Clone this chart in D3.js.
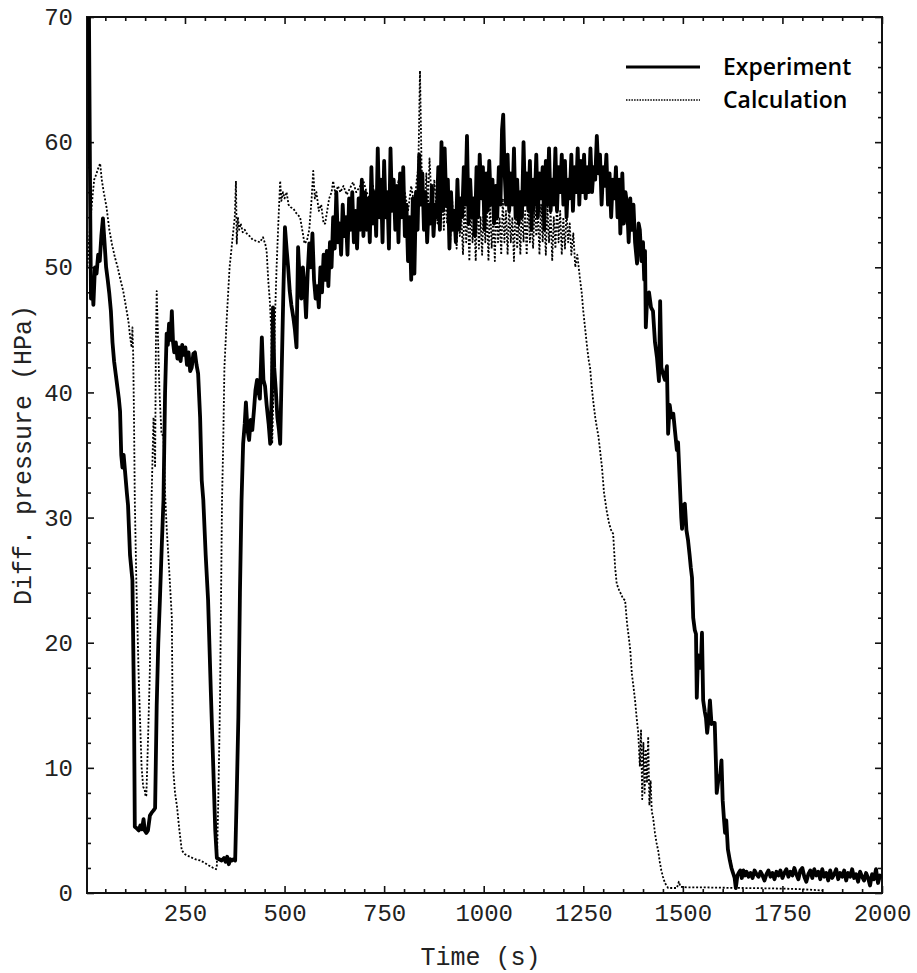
<!DOCTYPE html>
<html>
<head>
<meta charset="utf-8">
<script src="https://cdn.jsdelivr.net/npm/d3@7"></script>
<style>
  html, body { margin: 0; padding: 0; background: #fff; }
  svg { display: block; }
</style>
</head>
<body>
<svg id="chart" width="917" height="973"></svg>
<script>
// ---------- data ----------
const xTicks = [250, 500, 750, 1000, 1250, 1500, 1750, 2000];
const yTicks = [0, 10, 20, 30, 40, 50, 60, 70];
const seriesNames = ["Experiment", "Calculation"];

const experiment = [
  [5,72],[9,70],[12,55],[14,47.5],[17,49],[20,47],[24,50],[28,49.5],[32,51],[36,50.5],[40,52.5],[44,53.9],
  [48,52],[52,50],[56,49],[60,47.9],[64,46.5],[68,44],[72,42.5],[76,41.5],[80,40.5],[84,39.5],[87,38.5],
  [90,35],[93,34],[96,35],[100,33.5],[104,32],[107,31],[112,27],[118,25],[122,15],[124,5.3],[128,5.2],
  [134,5.0],[138,5.4],[142,5.1],[146,5.9],[149,5.0],[153,4.8],[157,5.0],[162,6.2],[166,6.4],[171,6.6],
  [175,6.8],[179,15],[183,20],[187,23.4],[192,28],[196,31.4],[200,40],[204,44.7],[207,43.8],[210,45.5],
  [214,44.2],[217,46.5],[220,44],[223,43.2],[227,44],[231,42.7],[235,43.6],[239,42.5],[243,43.8],[247,43],
  [251,43.6],[255,42.2],[259,43.2],[263,41.7],[267,42],[271,43.1],[275,43.2],[279,42.2],[283,41.5],
  [288,38],[292,33],[296,31.4],[302,27],[308,23.4],[315,16],[321,10.1],[326,5],[330,2.8],[336,2.7],
  [342,2.6],[348,2.8],[352,2.5],[356,2.9],[360,2.3],[364,2.7],[368,2.6],[372,2.7],[376,2.6],[380,8],
  [384,14],[388,24],[392,31.4],[396,35.9],[400,37.5],[403,39.2],[407,37],[411,36.2],[415,37.8],[419,37],
  [423,38.5],[427,40.2],[431,41],[435,40],[438,39.5],[443,44.4],[447,41],[451,40.5],[455,39],[460,37.5],
  [464,35.9],[468,40],[471,46.8],[474,42],[478,40.2],[482,38],[486,37],[489,35.9],[493,42],[497,48],
  [501,53.2],[505,51.5],[509,50],[513,48.1],[517,47],[522,46],[526,45],[530,43.6],[534,51.6],[538,49],
  [542,47.5],[546,50],[550,48.5],[554,46],[558,49.5],[562,51.9],[566,50],[570,52.7],[574,49],[578,47.5],
  [582,48.5],[586,46.8],[590,50],[594,48],[598,51],[602,49],[606,51.3],[610,48.5],[614,52],[618,50],
  [622,54],[626,51.5],[630,56],[634,52],[638,53.5],[642,51],[646,55],[650,52.5],[654,54],[658,51],
  [662,55.5],[666,53],[670,56],[674,52],[678,54.5],[682,51.5],[686,55.5],[690,53],[694,57],[698,52.5],
  [702,56],[706,53],[710,55.5],[714,52],[718,58],[722,53.5],[726,56],[730,52.5],[734,59.5],[738,54],
  [742,57],[746,52],[750,58.5],[754,54],[758,56],[762,51.5],[766,59.5],[770,54.5],[774,57],[778,53],
  [782,56.5],[786,52],[790,57.5],[794,54],[798,58],[802,52.5],[806,55],[810,50.5],[814,54],[818,49],
  [822,55.5],[826,49.5],[830,56],[834,53],[838,59],[842,55],[846,57.5],[850,53],[854,56],[858,52],
  [862,55],[866,53.5],[870,56.5],[874,52.5],[878,55],[882,54],[886,58],[890,53],[894,60],[898,54.5],
  [902,59.5],[906,55],[910,57],[914,51.5],[918,56],[922,53],[926,54.5],[930,52],[934,57],[938,53],
  [942,55.5],[946,54],[950,58],[954,55],[958,60.5],[962,53.5],[966,57],[970,54],[974,55.5],[978,52.5],
  [982,58],[986,54],[990,59],[994,55.5],[998,58],[1002,53],[1006,57.5],[1010,54.5],[1014,58.5],[1018,55],
  [1022,57],[1026,53.5],[1030,56.5],[1034,54],[1038,58],[1042,55],[1046,61],[1049,62.2],[1052,58],
  [1056,55],[1060,59],[1064,54.5],[1068,57.5],[1072,55],[1076,59.5],[1080,54],[1084,57],[1088,53.5],
  [1092,56],[1096,54],[1100,60],[1104,55],[1108,57.5],[1112,54.5],[1116,58.5],[1120,53],[1124,57],
  [1128,55],[1132,59],[1136,54],[1140,57.5],[1144,55.5],[1148,58],[1152,53],[1156,58.5],[1160,55],
  [1164,59.5],[1168,54.5],[1172,57],[1176,55],[1180,59.5],[1184,54.5],[1188,58],[1192,56],[1196,59],
  [1200,55],[1204,58.5],[1208,54],[1212,57],[1216,55.5],[1220,59],[1224,54.5],[1228,58],[1232,56],
  [1236,59.5],[1240,55],[1244,58.5],[1248,56],[1252,59],[1256,55.5],[1260,58],[1264,56],[1268,59.5],
  [1272,56],[1276,58],[1280,57],[1284,60.5],[1288,57.5],[1292,59],[1296,55],[1300,58],[1304,56.5],
  [1308,59],[1312,55],[1316,57.5],[1320,54],[1324,57],[1328,55.5],[1332,58],[1336,54],[1340,57],
  [1343,52.7],[1348,57.5],[1352,53.5],[1356,56],[1360,55],[1364,52],[1368,55.5],[1372,53],[1376,55],
  [1380,52],[1385,50.3],[1389,53.5],[1392,53],[1396,50.5],[1400,52],[1403,49],[1405,51.3],[1407,45.2],
  [1410,47.3],[1415,48],[1420,46.8],[1425,46.5],[1430,44],[1435,42.8],[1440,40.9],[1443,47.3],[1446,42],
  [1450,41.5],[1455,41],[1460,42.1],[1463,36.7],[1467,39],[1471,38],[1476,38.3],[1480,37],[1485,35.4],
  [1488,36],[1492,33],[1496,30],[1498,29.1],[1502,31],[1505,31.1],[1509,29],[1513,28.2],[1517,27],
  [1520,26],[1523,25.2],[1526,22],[1530,21],[1533,20.7],[1535,15.6],[1538,19],[1542,18],[1546,19],
  [1548,20.8],[1551,15.4],[1555,14.5],[1558,14],[1561,12.8],[1565,14],[1568,15.4],[1572,13.5],[1576,13.6],
  [1580,13.6],[1583,10.5],[1585,8],[1589,9],[1594,9.5],[1597,10.6],[1600,7.4],[1603,6],[1606,4.8],
  [1609,5.8],[1613,3.5],[1618,2.6],[1622,2],[1626,1.6],[1630,1.2],[1633,0.4],[1637,1.4],[1640,1.6],
  [1644,1.8],[1648,1.2],[1652,1.8],[1656,1.4],[1660,1.7],[1665,1.3],[1670,1.6],[1675,1.2],[1680,1.8],
  [1685,1.5],[1690,1.3],[1695,1.7],[1700,1.4],[1705,1.0],[1710,1.5],[1715,1.8],[1720,1.3],[1725,1.6],
  [1730,1.1],[1735,1.7],[1740,1.4],[1745,1.8],[1750,1.2],[1755,1.6],[1760,1.9],[1765,1.3],[1770,1.7],
  [1775,1.4],[1780,2.0],[1785,1.5],[1790,1.1],[1795,1.8],[1800,2.0],[1805,1.3],[1810,0.9],[1815,1.5],
  [1820,1.8],[1825,1.2],[1830,1.9],[1835,1.4],[1840,1.7],[1845,1.1],[1850,1.9],[1855,1.3],[1860,1.6],
  [1865,1.0],[1870,1.8],[1875,1.2],[1880,1.5],[1885,1.9],[1890,1.1],[1895,1.6],[1900,1.3],[1905,1.8],
  [1910,1.0],[1915,1.6],[1920,1.3],[1925,1.9],[1930,1.2],[1935,1.5],[1940,0.9],[1945,1.7],[1950,1.3],
  [1955,1.0],[1960,1.6],[1965,1.2],[1970,0.6],[1975,1.5],[1980,1.1],[1985,1.9],[1990,0.8],[1995,1.4],
  [2000,1.2]
];

const calculation = [
  [5,50],[10,52.5],[16,55],[22,57],[28,57.5],[33,58],[37,58.3],[41,57],[46,56],[53,54.8],[60,53],
  [67,51.8],[74,50.8],[81,50],[88,49],[95,48.1],[101,47],[108,45.7],[112,44.5],[116,43.6],[118,45.2],
  [120,43],[122,38],[124,31.4],[128,24.7],[134,17],[141,10.1],[145,8.5],[149,8.2],[151,7.7],[153,7.8],
  [157,12],[162,18],[166,31.4],[171,38],[175,34],[177,44],[179,48.1],[182,44.7],[186,40],[191,36.7],
  [196,36.5],[200,32],[204,29.2],[210,26],[217,22],[220,10.1],[225,8],[230,6.9],[236,5],[242,3.4],
  [250,3.1],[262,2.9],[275,2.7],[288,2.6],[300,2.4],[310,2.2],[321,2.0],[328,1.9],[330,2.2],[334,8],
  [338,15.4],[343,31.4],[346,35.9],[349,42],[355,46],[362,50],[370,52.5],[375,54],[378,56.9],[380,51.9],
  [383,54],[386,53],[390,53.5],[395,52.8],[400,53],[405,52.7],[412,52.5],[420,52.2],[430,52.1],[438,52],
  [446,52.4],[452,51.8],[455,51.3],[459,49],[463,47.3],[467,44.7],[469,35.9],[472,40],[476,46],[480,50],
  [485,54],[489,56.9],[492,55.3],[496,56],[500,55.5],[505,56],[510,55],[515,54.8],[522,54.7],[530,54.3],
  [539,54],[546,52.7],[550,51.9],[556,52.1],[562,53],[568,55.5],[572,57.7],[576,55.5],[580,56],[586,54.5],
  [592,55],[598,53.5],[602,53.5],[606,54.3],[612,55.5],[618,56],[622,56.9],[628,55.8],[634,56.5],[640,56],
  [648,56.5],[656,55.8],[664,56.3],[672,56.8],[680,56],[690,56.5],[698,56.9],[706,56],[714,55.5],[722,56.5],
  [730,55],[738,56],[746,54.5],[754,56],[762,55],[770,56.5],[778,54.5],[786,57],[794,55],[802,56],
  [810,54.5],[818,56.5],[826,55],[832,57],[836,58],[840,65.7],[844,58],[848,56],[852,54],[856,57.5],
  [860,55],[864,58.7],[868,56],[872,54.5],[876,57],[880,55],[884,53.5],[888,56],[892,54],[896,55.5],
  [900,53],[904,56.5],[908,53.5],[912,55],[916,52],[920,56],[924,53],[928,54.5],[932,51.5],[936,55],
  [940,52.5],[944,54],[948,51],[952,55.5],[956,52],[960,54.5],[964,50.5],[968,55],[972,52],[976,54],
  [980,50.5],[984,55.5],[988,51.5],[992,54],[996,51],[1000,55],[1004,52],[1008,54.5],[1012,50.5],
  [1016,55.5],[1020,51.5],[1024,54],[1028,50.5],[1032,55.5],[1036,52],[1040,54],[1044,51],[1048,55.5],
  [1052,52],[1056,54.5],[1060,51],[1064,55],[1068,52],[1072,54],[1076,50.5],[1080,55.5],[1084,51.5],
  [1088,54],[1092,51],[1096,55],[1100,52],[1104,54.5],[1108,51],[1112,55.5],[1116,52],[1120,54],
  [1124,51.5],[1128,55],[1132,52.5],[1136,54.5],[1140,51],[1144,55],[1148,52],[1152,54],[1156,51],
  [1160,55],[1164,52],[1168,54.5],[1172,50.5],[1176,54],[1180,51.5],[1184,55],[1188,52],[1192,54.5],
  [1196,51],[1200,54],[1204,51.5],[1208,54.5],[1212,52],[1216,53.5],[1220,51],[1225,52.7],[1230,50],
  [1235,51],[1242,49],[1246,48],[1250,46.5],[1255,45],[1260,43.5],[1264,42.5],[1267,42],[1271,40.5],
  [1275,39.3],[1280,38],[1284,37.2],[1288,36.5],[1292,35.4],[1297,34],[1302,32],[1309,30.5],[1315,29.5],
  [1320,29],[1325,28.7],[1330,26],[1334,24.7],[1340,24.2],[1346,23.8],[1350,23.5],[1355,23.4],[1360,21.5],
  [1364,20.5],[1368,19.4],[1372,17.5],[1376,16.5],[1380,15.4],[1384,14],[1388,12.8],[1392,10.1],[1395,13],
  [1398,7.5],[1401,12],[1404,8],[1407,11.5],[1410,8.8],[1413,12.5],[1416,7],[1419,9],[1422,6.5],[1425,6.1],
  [1430,4.8],[1434,4],[1438,3.4],[1442,2.5],[1446,1.8],[1450,1.3],[1455,0.8],[1463,0.4],[1475,0.4],
  [1485,0.4],[1490,0.9],[1494,0.5],[1510,0.45],[1550,0.45],[1600,0.42],[1650,0.4],[1700,0.38],[1750,0.35],
  [1800,0.3],[1852,0.2]
];

// ---------- layout ----------
const svg = d3.select("#chart");
const mLeft = 87, mRight = 882, mTop = 17, mBottom = 893;
const x = d3.scaleLinear().domain([4, 2000]).range([mLeft, mRight]);
const y = d3.scaleLinear().domain([0, 70]).range([mBottom, mTop]);

svg.append("defs").append("clipPath").attr("id", "clip")
  .append("rect").attr("x", mLeft).attr("y", mTop).attr("width", mRight - mLeft).attr("height", mBottom - mTop);

const monoFont = '"Liberation Mono", "DejaVu Sans Mono", monospace';

const xMinor = d3.range(50, 2001, 50).filter(v => v % 250 !== 0);
const yMinor = d3.range(2, 70, 2).filter(v => v % 10 !== 0);

function styleAxis(g) {
  g.select(".domain").remove();
  g.selectAll(".tick line").attr("stroke", "#111").attr("stroke-width", 1.6);
}

// bottom axis
const gB = svg.append("g").attr("transform", `translate(0,${mBottom})`)
  .call(d3.axisBottom(x).tickValues(xTicks).tickSize(-7).tickPadding(11).tickFormat(d3.format("d")));
styleAxis(gB);
gB.selectAll(".tick text").attr("font-size", 24).attr("fill", "#222").attr("font-family", monoFont);
svg.append("g").attr("transform", `translate(0,${mBottom})`)
  .call(d3.axisBottom(x).tickValues(xMinor).tickSize(-4).tickFormat("")).call(styleAxis);

// top axis
svg.append("g").attr("transform", `translate(0,${mTop})`)
  .call(d3.axisTop(x).tickValues(xTicks).tickSize(-7).tickFormat("")).call(styleAxis);
svg.append("g").attr("transform", `translate(0,${mTop})`)
  .call(d3.axisTop(x).tickValues(xMinor).tickSize(-4).tickFormat("")).call(styleAxis);

// left axis
const gL = svg.append("g").attr("transform", `translate(${mLeft},0)`)
  .call(d3.axisLeft(y).tickValues(yTicks).tickSize(-7).tickPadding(14));
styleAxis(gL);
gL.selectAll(".tick text").attr("font-size", 24).attr("fill", "#222").attr("font-family", monoFont);
svg.append("g").attr("transform", `translate(${mLeft},0)`)
  .call(d3.axisLeft(y).tickValues(yMinor).tickSize(-4).tickFormat("")).call(styleAxis);

// right axis
svg.append("g").attr("transform", `translate(${mRight},0)`)
  .call(d3.axisRight(y).tickValues(yTicks).tickSize(-7).tickFormat("")).call(styleAxis);
svg.append("g").attr("transform", `translate(${mRight},0)`)
  .call(d3.axisRight(y).tickValues(yMinor).tickSize(-4).tickFormat("")).call(styleAxis);

// frame
svg.append("rect").attr("x", mLeft).attr("y", mTop).attr("width", mRight - mLeft).attr("height", mBottom - mTop)
  .attr("fill", "none").attr("stroke", "#111").attr("stroke-width", 2);

// axis titles
svg.append("text").attr("x", (mLeft + mRight) / 2 - 4).attr("y", 965)
  .attr("text-anchor", "middle").attr("font-family", monoFont).attr("font-size", 25).attr("fill", "#222")
  .text("Time (s)");
svg.append("text").attr("transform", `translate(31,${(mTop + mBottom) / 2}) rotate(-90)`)
  .attr("text-anchor", "middle").attr("font-family", monoFont).attr("font-size", 25).attr("fill", "#222")
  .text("Diff. pressure (HPa)");

// series
const line = d3.line().x(d => x(d[0])).y(d => y(d[1]));
const plot = svg.append("g").attr("clip-path", "url(#clip)");
plot.append("path").datum(calculation).attr("d", line)
  .attr("fill", "none").attr("stroke", "#000").attr("stroke-width", 1.8)
  .attr("stroke-dasharray", "2,1.8").attr("stroke-linejoin", "round");
plot.append("path").datum(experiment).attr("d", line)
  .attr("fill", "none").attr("stroke", "#000").attr("stroke-width", 3.8)
  .attr("stroke-linejoin", "round");

// legend
const leg = svg.append("g");
const legendItems = [
  { name: seriesNames[0], y: 67, width: 3.2, dash: null },
  { name: seriesNames[1], y: 100, width: 1.4, dash: "1.5,1.2" }
];
legendItems.forEach(it => {
  leg.append("line").attr("x1", 626).attr("x2", 700).attr("y1", it.y).attr("y2", it.y)
    .attr("stroke", "#000").attr("stroke-width", it.width).attr("stroke-dasharray", it.dash);
  leg.append("text").attr("x", 723).attr("y", it.y).attr("dy", "0.35em")
    .attr("font-family", '"Open Sans", "Noto Sans", sans-serif').attr("font-weight", 600)
    .attr("font-size", 23).attr("fill", "#000").text(it.name);
});
</script>
</body>
</html>
